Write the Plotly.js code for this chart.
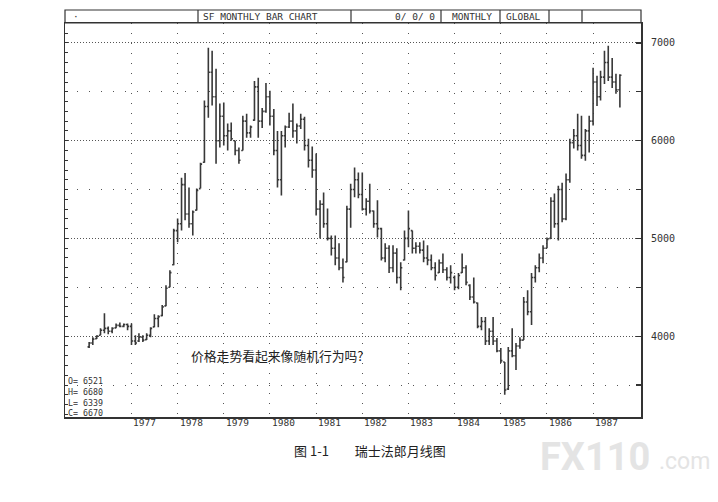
<!DOCTYPE html>
<html>
<head>
<meta charset="utf-8">
<script src="https://cdn.plot.ly/plotly-3.0.1.min.js"></script>
<style>
html,body{margin:0;padding:0;background:#fff;}
#chart{width:718px;height:502px;}
</style>
</head>
<body>
<div id="chart"></div>
<script>
// Monthly Swiss franc bars, Feb 1976 .. Aug 1987
const startYear = 1976, startMonth = 2;
const open = [
3890,3930,3975,4010,4060,4080,4050,4085,4110,4100,4120,
4100,3950,3950,3990,3965,4010,4095,4180,4210,4310,4500,4730,
5080,5150,5550,5250,5150,5290,5510,5780,6350,6700,6450,6000,
6250,6050,6100,6000,5900,5900,6200,6080,6210,6550,6200,6300,
6450,6250,5900,5600,6050,6140,6200,6100,6150,6220,5950,5800,
5700,5300,5350,5150,5000,4900,4800,4700,4760,5300,5500,5600,
5450,5300,5380,5280,5150,5100,4800,4900,4700,4850,4600,4780,
5000,5080,4900,4920,4880,4800,4780,4700,4650,4750,4680,4600,
4600,4500,4650,4700,4520,4400,4340,4100,4150,3950,4050,3950,
3850,3735,3460,3850,3800,3900,3960,4350,4250,4600,4700,4800,
4900,5000,5380,5150,5500,5200,5600,5980,6050,5950,5850,6100,
6200,6600,6450,6650,6800,6650,6600,6521];
const high = [
3940,3990,4010,4080,4235,4100,4090,4130,4140,4130,4130,
4130,4010,4030,4010,4030,4090,4225,4215,4320,4520,4675,5100,
5205,5620,5670,5520,5285,5510,5775,6410,6950,6920,6735,6380,
6390,6175,6185,6000,5930,6255,6275,6155,6610,6645,6335,6590,
6510,6325,6100,6100,6155,6285,6380,6175,6275,6245,6020,5940,
5870,5390,5470,5305,5030,5030,4950,4795,5335,5560,5725,5675,
5675,5410,5560,5285,5390,5110,4950,4930,4930,4900,4755,5080,
5285,5080,4960,4960,4980,4930,4835,4755,4785,4845,4705,4725,
4620,4645,4845,4725,4530,4600,4345,4195,4195,4080,4195,3980,
3880,3735,3890,4080,3930,3990,4400,4470,4645,4725,4845,4930,
5010,5420,5460,5540,5570,5665,6020,6120,6275,6255,6120,6255,
6745,6665,6715,6920,6970,6845,6685,6680];
const low = [
3880,3910,3970,4010,4030,4020,4030,4080,4090,4090,4060,
3910,3910,3940,3940,3960,3990,4090,4090,4205,4305,4500,4725,
4960,5080,5185,5110,5030,5285,5510,5775,6235,6360,5765,5930,
5950,5900,6000,5850,5765,5900,6030,6030,6205,6030,6130,6285,
6155,5850,5520,5440,5930,6130,6030,5970,6120,5900,5725,5620,
5235,5000,5110,4980,4825,4725,4675,4550,4755,5110,5420,5410,
5285,5235,5255,5110,5010,4775,4755,4645,4655,4540,4470,4775,
4910,4845,4845,4845,4755,4725,4675,4570,4645,4645,4570,4540,
4470,4480,4645,4520,4370,4335,4080,4060,3910,3910,3910,3835,
3725,3400,3450,3785,3655,3870,3960,4215,4115,4550,4655,4745,
4900,5000,5110,4980,5165,5185,5570,5920,5900,5815,5795,5880,
6155,6355,6410,6580,6610,6540,6480,6339];
const close = [
3930,3970,4000,4060,4080,4050,4080,4110,4100,4120,4100,
3950,3930,3990,3960,4010,4080,4180,4200,4300,4490,4650,5080,
5150,5550,5250,5150,5270,5490,5760,6350,6700,6450,6000,6250,
6050,6100,6020,5900,5800,6200,6080,6140,6550,6200,6300,6450,
6250,5900,5600,6050,6140,6200,6100,6150,6220,5950,5800,5700,
5300,5350,5150,5000,4900,4800,4700,4600,5300,5500,5600,5450,
5300,5380,5280,5150,5100,4800,4900,4700,4850,4600,4700,5000,
5100,4900,4920,4880,4800,4780,4700,4620,4750,4680,4600,4650,
4500,4620,4700,4550,4400,4350,4100,4150,3950,4050,3950,3850,
3750,3450,3850,3800,3900,3960,4350,4250,4600,4700,4800,4900,
4990,5380,5150,5500,5200,5600,5980,6050,5950,5850,6100,6200,
6600,6450,6650,6800,6650,6600,6520,6670];
const yearLabels = ['1977','1978','1979','1980','1981','1982','1983','1984','1985','1986','1987'];
const priceLabels = ['4000','5000','6000','7000'];
const lastBarText = ['O= 6521','H= 6680','L= 6339','C= 6670'];
const headerTexts = ['\u00b7','SF MONTHLY BAR CHART','0/ 0/ 0','MONTHLY','GLOBAL'];
const questionText = '价格走势看起来像随机行为吗?';
const captionText = '图 1-1　　瑞士法郎月线图';
const watermarkMain = 'FX110', watermarkTail = '.com';

// month index axis positions
const dates = [];
for (let i = 0; i < high.length; i++) {
  const t = (startMonth - 1) + i;
  const y = startYear + Math.floor(t / 12);
  const m = (t % 12) + 1;
  dates.push(y + '-' + String(m).padStart(2, '0') + '-01');
}

// layout geometry helpers (pixel -> paper)
const L = 65, R = 641, T = 23, B = 417;
const px = x => (x - L) / (R - L);
const py = y => (B - y) / (B - T);

const ink = '#333333';
const mono = 'DejaVu Sans Mono, Liberation Mono, monospace';

const traces = [{
  type: 'ohlc',
  x: dates, open: open, high: high, low: low, close: close,
  increasing: {line: {color: '#383838', width: 1.6}},
  decreasing: {line: {color: '#383838', width: 1.6}},
  tickwidth: 0.45,
  hoverinfo: 'skip',
  xaxis: 'x', yaxis: 'y'
}, {
  type: 'scatter', mode: 'markers',
  x: [dates[0]], y: [null],
  xaxis: 'x', yaxis: 'y2', hoverinfo: 'skip', showlegend: false
}];

const shapes = [];
// header strip
shapes.push({type:'rect', xref:'paper', yref:'paper', x0:0, x1:1, y0:py(23), y1:py(10),
  line:{color:ink, width:1.2}, fillcolor:'rgba(0,0,0,0)'});
[198, 351, 441, 500, 549, 582].forEach(x => shapes.push({
  type:'line', xref:'paper', yref:'paper', x0:px(x), x1:px(x), y0:py(23), y1:py(10),
  line:{color:ink, width:1.2}}));

const annotations = [];
const hdrPos = [[71,'left'],[201,'left'],[437,'right'],[450,'left'],[504,'left']];
headerTexts.forEach((t, i) => annotations.push({
  xref:'paper', yref:'paper', x:px(hdrPos[i][0]), y:py(16.5), text:t, showarrow:false,
  xanchor:hdrPos[i][1], yanchor:'middle', font:{family:mono, size:9.5, color:ink}}));

// right price labels
priceLabels.forEach(p => annotations.push({
  xref:'paper', yref:'y', x:px(649), y:+p, text:p, showarrow:false,
  xanchor:'left', yanchor:'middle', font:{family:mono, size:10, color:ink}}));

// year labels, left-aligned at the January grid line
yearLabels.forEach(yl => annotations.push({
  xref:'x', yref:'paper', x:yl + '-01-01', y:py(422), text:yl, showarrow:false,
  xanchor:'left', yanchor:'middle', xshift:0,
  font:{family:mono, size:9.5, color:ink}}));

// last bar values
annotations.push({xref:'paper', yref:'paper', x:px(66), y:py(397), text:lastBarText.join('<br>'),
  showarrow:false, xanchor:'left', yanchor:'middle', align:'left',
  font:{family:mono, size:8.3, color:ink}});

annotations.push({xref:'paper', yref:'paper', x:px(189), y:py(355), text:questionText,
  showarrow:false, xanchor:'left', yanchor:'middle',
  font:{family:'Noto Sans CJK SC, sans-serif', size:12.8, color:'#222'}});
annotations.push({xref:'paper', yref:'paper', x:px(292), y:py(450), text:captionText,
  showarrow:false, xanchor:'left', yanchor:'middle',
  font:{family:'Noto Sans CJK SC, sans-serif', size:13, color:'#222'}});
// faint watermark
annotations.push({xref:'paper', yref:'paper', x:px(538), y:py(457), text:'<b>'+watermarkMain+'</b>',
  showarrow:false, xanchor:'left', yanchor:'middle',
  font:{family:'Roboto, Arial, sans-serif', size:38, color:'#e4e4e4'}});
annotations.push({xref:'paper', yref:'paper', x:px(657), y:py(461), text:watermarkTail,
  showarrow:false, xanchor:'left', yanchor:'middle',
  font:{family:'Roboto, Arial, sans-serif', size:23, color:'#e4e4e4'}});

const layout = {
  width: 718, height: 502,
  margin: {l: L, r: 718 - R, t: T, b: 502 - B, pad: 0},
  paper_bgcolor: '#ffffff', plot_bgcolor: '#ffffff',
  showlegend: false,
  xaxis: {
    type: 'date', range: ['1975-07-25', '1988-01-15'],
    rangeslider: {visible: false},
    tickvals: yearLabels.map(y => y + '-01-01'),
    showticklabels: false,
    ticks: '', showgrid: true, gridcolor: '#555', gridwidth: 1, griddash: '1px,9px',
    showline: true, mirror: true, linecolor: ink, linewidth: 1.5,
    zeroline: false, fixedrange: true
  },
  yaxis: {
    range: [3173, 7204], side: 'right',
    tick0: 0, dtick: 1000, ticks: 'inside', ticklen: 5, tickcolor: ink, tickwidth: 1.2,
    showticklabels: false,
    showgrid: true, gridcolor: '#555', gridwidth: 1, griddash: '1px,2px',
    minor: {dtick: 500, ticks: 'inside', ticklen: 5, tickcolor: ink,
            showgrid: true, gridcolor: '#555', gridwidth: 1, griddash: '1px,11px'},
    showline: true, linecolor: ink, linewidth: 1.5, zeroline: false, fixedrange: true
  },
  yaxis2: {
    range: [3173, 7204], overlaying: 'y', side: 'left',
    tick0: 0, dtick: 100, ticks: 'inside', ticklen: 3, tickcolor: ink, tickwidth: 1,
    showticklabels: false, showgrid: false,
    showline: true, linecolor: ink, linewidth: 1.5, zeroline: false, fixedrange: true
  },
  shapes: shapes,
  annotations: annotations
};

Plotly.newPlot('chart', traces, layout, {displayModeBar: false, staticPlot: true});
</script>
</body>
</html>
